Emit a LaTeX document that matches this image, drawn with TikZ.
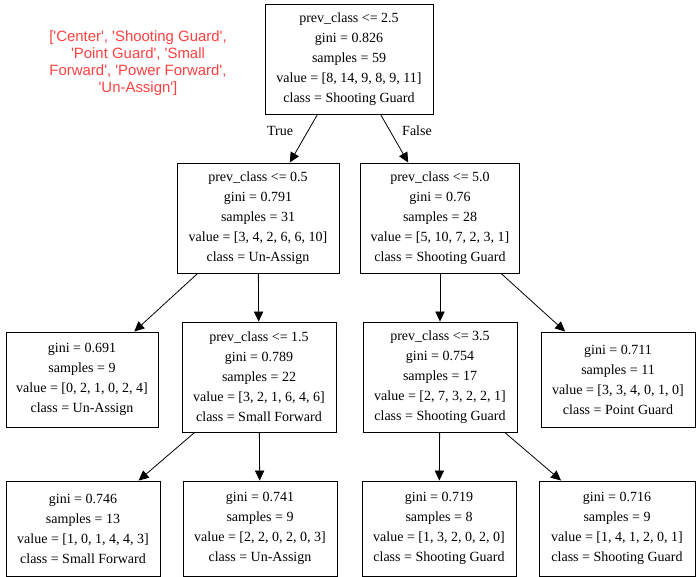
\documentclass[tikz,border=0pt]{standalone}
\usepackage{fontspec}
\setmainfont{Liberation Serif}
\newfontfamily\labelsans{Liberation Sans}
\usetikzlibrary{arrows.meta}

\definecolor{treered}{RGB}{255,64,64}

\begin{document}
\begin{tikzpicture}[x=.75pt,y=-.75pt,
    font=\fontsize{10.5}{15}\selectfont,
    split/.style={draw,line width=.7pt,align=center,inner sep=0pt,minimum height=82.5pt},
    leaf/.style={draw,line width=.7pt,align=center,inner sep=0pt,minimum height=71.25pt},
    edge/.style={-{Triangle[length=7.5pt,width=7pt]},line width=.6pt}]
    \useasboundingbox (0,0) rectangle (699,577);

    % legend of class names
    \node[text=treered,font=\labelsans\fontsize{11.2}{12.9}\selectfont,align=center]
      (classes) at (138,63) {['Center', 'Shooting Guard',\\'Point Guard', 'Small\\Forward', 'Power Forward',\\'Un-Assign']};

    % level 0
    \node[split,minimum width=126pt] (root) at (349,59.5)
      {prev\_class <= 2.5\\gini = 0.826\\samples = 59\\value = [8, 14, 9, 8, 9, 11]\\class = Shooting Guard};

    % level 1
    \node[split,minimum width=121.5pt] (n1) at (258,218)
      {prev\_class <= 0.5\\gini = 0.791\\samples = 31\\value = [3, 4, 2, 6, 6, 10]\\class = Un-Assign};
    \node[split,minimum width=119.25pt] (n2) at (440,218)
      {prev\_class <= 5.0\\gini = 0.76\\samples = 28\\value = [5, 10, 7, 2, 3, 1]\\class = Shooting Guard};

    % level 2
    \node[leaf,minimum width=114pt] (n3) at (82,379.5)
      {gini = 0.691\\samples = 9\\value = [0, 2, 1, 0, 2, 4]\\class = Un-Assign};
    \node[split,minimum width=115.5pt] (n4) at (259,377)
      {prev\_class <= 1.5\\gini = 0.789\\samples = 22\\value = [3, 2, 1, 6, 4, 6]\\class = Small Forward};
    \node[split,minimum width=115.5pt] (n5) at (440,377)
      {prev\_class <= 3.5\\gini = 0.754\\samples = 17\\value = [2, 7, 3, 2, 2, 1]\\class = Shooting Guard};
    \node[leaf,minimum width=115.5pt] (n6) at (618,379.5)
      {gini = 0.711\\samples = 11\\value = [3, 3, 4, 0, 1, 0]\\class = Point Guard};

    % level 3
    \node[leaf,minimum width=115.5pt] (n7) at (83,528.5)
      {gini = 0.746\\samples = 13\\value = [1, 0, 1, 4, 4, 3]\\class = Small Forward};
    \node[leaf,minimum width=115.5pt] (n8) at (260,528.5)
      {gini = 0.741\\samples = 9\\value = [2, 2, 0, 2, 0, 3]\\class = Un-Assign};
    \node[leaf,minimum width=115.5pt] (n9) at (439,528.5)
      {gini = 0.719\\samples = 8\\value = [1, 3, 2, 0, 2, 0]\\class = Shooting Guard};
    \node[leaf,minimum width=117pt] (n10) at (617,528.5)
      {gini = 0.716\\samples = 9\\value = [1, 4, 1, 2, 0, 1]\\class = Shooting Guard};

    \node (truelbl) at (280,131) {True};
    \node (falselbl) at (417,131) {False};

    \draw[edge] (root) -- (n1);
    \draw[edge] (root) -- (n2);
    \draw[edge] (n1) -- (n3);
    \draw[edge] (n1) -- (n4);
    \draw[edge] (n2) -- (n5);
    \draw[edge] (n2) -- (n6);
    \draw[edge] (n4) -- (n7);
    \draw[edge] (n4) -- (n8);
    \draw[edge] (n5) -- (n9);
    \draw[edge] (n5) -- (n10);
  \end{tikzpicture}
\end{document}
